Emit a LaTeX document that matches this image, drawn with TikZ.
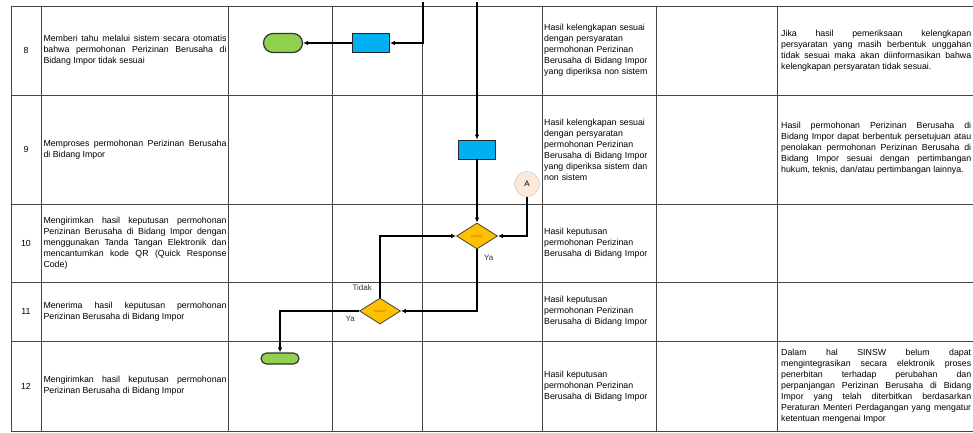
\documentclass[tikz,border=0pt]{standalone}
\usepackage{xcolor}
\usepackage{fontspec}
\setmainfont{Liberation Sans}
\usepackage{tikz}
\usetikzlibrary{positioning, shapes.geometric, shapes.misc, arrows.meta}

\definecolor{procblue}{HTML}{00B0F0}
\definecolor{termgreen}{HTML}{92D050}
\definecolor{decgold}{HTML}{FFC000}
\definecolor{conpink}{HTML}{FDE9D9}

\hyphenpenalty=10000
\tolerance=9999

\begin{document}
\begin{tikzpicture}[
        x=1pt, y=-1pt,
        every node/.style={font=\fontsize{8.8}{11}\selectfont},
        tableline/.style={draw=gray!55!black, line width=0.8pt},
        num/.style={inner sep=0pt},
        desc/.style={text width=183pt, align=justify, inner sep=0pt},
        result/.style={text width=110pt, align=left, inner sep=0pt, anchor=west},
        remark/.style={text width=190pt, align=justify, inner sep=0pt, anchor=west},
        process/.style={draw=black!85, line width=0.8pt, fill=procblue,
                        minimum width=37pt, minimum height=19pt, inner sep=0pt},
        terminal/.style={rounded rectangle, draw=black!80, line width=1.2pt,
                         fill=termgreen, minimum width=39pt, minimum height=19pt,
                         inner sep=0pt},
        decision/.style={diamond, aspect=1.6, draw=black!75, line width=0.8pt,
                         fill=decgold, minimum width=41pt, minimum height=26pt,
                         inner sep=0pt, text=orange!75!black,
                         font=\fontsize{3.5}{4}\selectfont},
        connector/.style={circle, draw=gray!50, fill=conpink, minimum size=25pt,
                          inner sep=0pt, font=\fontsize{8}{9}\selectfont},
        flowtext/.style={inner sep=1pt, text=black!80, font=\fontsize{8}{9}\selectfont},
        arrow/.style={-{Latex[length=5pt, width=4.5pt]}, line width=1.6pt}
    ]

    \useasboundingbox (0,0) rectangle (973,433);

    % --- Table rules ---
    \draw[tableline] (11,6) -- (973,6) (11,95) -- (973,95) (11,204) -- (973,204)
        (11,282) -- (973,282) (11,341) -- (973,341) (11,431) -- (973,431);
    \draw[tableline] (11,6) -- (11,431) (41,6) -- (41,431) (228,6) -- (228,431)
        (332,6) -- (332,431) (422,6) -- (422,431) (542,6) -- (542,431)
        (656,6) -- (656,431) (777,6) -- (777,431);

    % --- Step numbers ---
    \node[num] (n8) at (26,50.5) {8};
    \node[num] (n9) at (26,149.5) {9};
    \node[num] (n10) at (26,243) {10};
    \node[num] (n11) at (26,311.5) {11};
    \node[num] (n12) at (26,386) {12};

    % --- Activities ---
    \node[desc] (d8) at (135,50.5) {Memberi tahu melalui sistem secara otomatis\linebreak
        bahwa permohonan Perizinan Berusaha di\linebreak Bidang Impor tidak sesuai};
    \node[desc] (d9) at (135,149.5) {Memproses permohonan Perizinan Berusaha\linebreak
        di Bidang Impor};
    \node[desc] (d10) at (135,243) {Mengirimkan hasil keputusan permohonan\linebreak
        Perizinan Berusaha di Bidang Impor dengan\linebreak
        menggunakan Tanda Tangan Elektronik dan\linebreak
        mencantumkan kode QR (Quick Response\linebreak Code)};
    \node[desc] (d11) at (135,311.5) {Menerima hasil keputusan permohonan\linebreak
        Perizinan Berusaha di Bidang Impor};
    \node[desc] (d12) at (135,386) {Mengirimkan hasil keputusan permohonan\linebreak
        Perizinan Berusaha di Bidang Impor};

    % --- Outputs ---
    \node[result] (o8) at (544,50.5) {Hasil kelengkapan sesuai\\ dengan persyaratan\\
        permohonan Perizinan\\ Berusaha di Bidang Impor\\ yang diperiksa non sistem};
    \node[result] (o9) at (544,149.5) {Hasil kelengkapan sesuai\\ dengan persyaratan\\
        permohonan Perizinan\\ Berusaha di Bidang Impor\\ yang diperiksa sistem dan\\ non sistem};
    \node[result] (o10) at (544,243) {Hasil keputusan\\ permohonan Perizinan\\ Berusaha di Bidang Impor};
    \node[result] (o11) at (544,311.5) {Hasil keputusan\\ permohonan Perizinan\\ Berusaha di Bidang Impor};
    \node[result] (o12) at (544,386) {Hasil keputusan\\ permohonan Perizinan\\ Berusaha di Bidang Impor};

    % --- Remarks ---
    \node[remark] (r8) at (781,50.5) {Jika hasil pemeriksaan kelengkapan\linebreak
        persyaratan yang masih berbentuk unggahan\linebreak
        tidak sesuai maka akan diinformasikan bahwa\linebreak
        kelengkapan persyaratan tidak sesuai.};
    \node[remark] (r9) at (781,148.5) {Hasil permohonan Perizinan Berusaha di\linebreak
        Bidang Impor dapat berbentuk persetujuan atau\linebreak
        penolakan permohonan Perizinan Berusaha di\linebreak
        Bidang Impor sesuai dengan pertimbangan\linebreak
        hukum, teknis, dan/atau pertimbangan lainnya.};
    \node[remark] (r12) at (781,386) {Dalam hal SINSW belum dapat\linebreak
        mengintegrasikan secara elektronik proses\linebreak
        penerbitan terhadap perubahan dan\linebreak
        perpanjangan Perizinan Berusaha di Bidang\linebreak
        Impor yang telah diterbitkan berdasarkan\linebreak
        Peraturan Menteri Perdagangan yang mengatur\linebreak
        ketentuan mengenai Impor};

    % --- Flow: step 8 ---
    \coordinate (top8) at (423,2);
    \node[process] (proc8) at (371,43) {};
    \node[terminal] (end8) at (283,43) {};
    \draw[arrow] (top8) |- (proc8);
    \draw[arrow] (proc8) -- (end8);

    % --- Flow: steps 9 and 10 ---
    \coordinate (top9) at (477,2);
    \node[process] (proc9) at (477,149.5) {};
    \node[decision] (dec10) at (477,236) {Sesuai?};
    \node[connector] (conA) at (527,184) {A};
    \draw[arrow] (top9) -- (proc9);
    \draw[arrow] (proc9) -- (dec10);
    \draw[arrow] (conA) |- (dec10);

    % --- Flow: step 11 ---
    \node[decision] (dec11) at (380,311) {Sesuai?};
    \draw[arrow] (dec10) |- (dec11);
    \draw[arrow] (dec11) |- (dec10);
    \node[flowtext, below right=4pt and 6pt of dec10.south] (ya10) {Ya};
    \node[flowtext, above left=6pt and 7pt of dec11.north] (tidak11) {Tidak};
    \node[flowtext, below left=4pt and 3pt of dec11.west] (ya11) {Ya};

    % --- Flow: step 12 ---
    \node[terminal, minimum width=38pt, minimum height=11pt] (end12) at (280,358.5) {};
    \draw[arrow] (dec11) -| (end12);

\end{tikzpicture}
\end{document}
